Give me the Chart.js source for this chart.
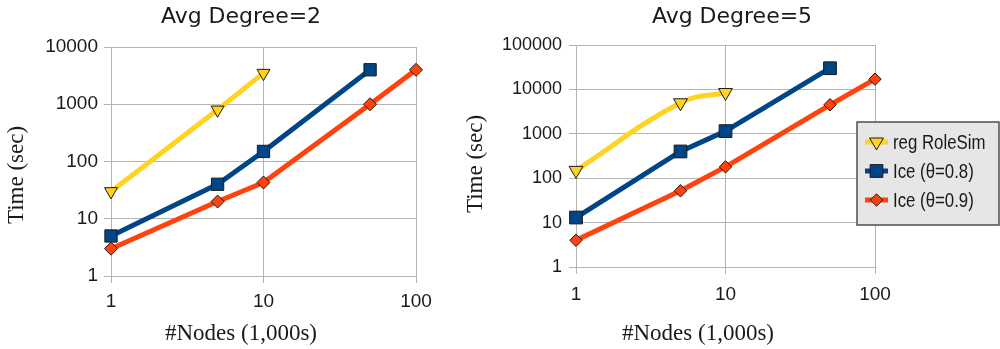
<!DOCTYPE html>
<html><head><meta charset="utf-8">
<script src="https://cdn.jsdelivr.net/npm/chart.js@4.4.1/dist/chart.umd.min.js"></script>
<style>
html,body{margin:0;padding:0;background:#fff;}
#wrap{position:relative;width:1000px;height:349px;overflow:hidden;background:#fff;}
.box{position:absolute;top:0;height:349px;}
</style></head><body>
<div id="wrap">
  <div class="box" style="left:0;width:460px"><canvas id="c1" width="460" height="349"></canvas></div>
  <div class="box" style="left:460px;width:540px"><canvas id="c2" width="540" height="349"></canvas></div>
</div>
<script>
// ---- data ----
const nodes = [1, 5, 10, 50, 100];
const seriesNames = ['reg RoleSim', 'Ice (θ=0.8)', 'Ice (θ=0.9)'];
const deg2RegRoleSim = [30, 800, 3500];
const deg2Ice08 = [5, 40, 150, 4000];
const deg2Ice09 = [3, 20, 43, 1000, 4000];
const deg5RegRoleSim = [150, 5000, 8500];
const deg5Ice08 = [13, 400, 1150, 30000];
const deg5Ice09 = [4, 52, 180, 4500, 17000];
const xTicks = [1, 10, 100];
const yTicksDeg2 = [1, 10, 100, 1000, 10000];
const yTicksDeg5 = [1, 10, 100, 1000, 10000, 100000];
const chartTitles = ['Avg Degree=2', 'Avg Degree=5'];
const xTitle = '#Nodes (1,000s)';
const yTitle = 'Time (sec)';

// ---- styles ----
const COLORS = ['#FFD320', '#004586', '#FF420E'];
const GRID = '#b4b4b4';
const TITLE_FONT = '22px "DejaVu Sans", sans-serif';
const AXIS_TITLE_FONT = '23px "Liberation Serif", "Times New Roman", serif';
const LEGEND_FONT = '20px "Liberation Sans", sans-serif';
const LEGEND_CONDENSE = 0.84;

function makeDataset(i, vals, radius, tension) {
  const styles = ['triangle', 'rect', 'rectRot'];
  const rots = [180, 0, 0];
  return {
    label: seriesNames[i],
    data: vals.map((v, k) => ({ x: nodes[k], y: v })),
    borderColor: COLORS[i],
    backgroundColor: COLORS[i],
    borderWidth: 5,
    borderJoinStyle: 'round',
    pointStyle: styles[i],
    pointRotation: rots[i],
    pointRadius: radius,
    pointHoverRadius: radius,
    pointBackgroundColor: COLORS[i],
    pointBorderColor: '#1a1a1a',
    pointBorderWidth: 1,
    tension: tension || 0,
    order: 3 - i,
    clip: false
  };
}

function makeScales(yMax, yTicks, yWidth, xHeight, xPad, yPad, yFontSize) {
  return {
    x: {
      type: 'logarithmic', min: 1, max: 100,
      afterBuildTicks: s => { s.ticks = xTicks.map(v => ({ value: v })); },
      afterFit: s => { s.height = xHeight; },
      ticks: { callback: v => String(v), autoSkip: false, maxRotation: 0,
        font: { family: 'Liberation Sans', size: 19 }, color: '#1a1a1a', padding: xPad },
      grid: { color: GRID, lineWidth: 1, tickLength: 7 },
      border: { color: GRID, width: 1 }
    },
    y: {
      type: 'logarithmic', min: 1, max: yMax,
      afterBuildTicks: s => { s.ticks = yTicks.map(v => ({ value: v })); },
      afterFit: s => { s.width = yWidth; },
      ticks: { callback: v => String(v), autoSkip: false,
        font: { family: 'Liberation Sans', size: yFontSize }, color: '#1a1a1a', padding: yPad },
      grid: { color: GRID, lineWidth: 1, tickLength: 7 },
      border: { color: GRID, width: 1 }
    }
  };
}

const textPlugin = {
  id: 'textLabels',
  afterDraw(chart, args, opts) {
    const ctx = chart.ctx;
    (opts.items || []).forEach(it => {
      ctx.save();
      ctx.font = it.font;
      ctx.fillStyle = '#1a1a1a';
      ctx.textAlign = 'center';
      ctx.textBaseline = 'middle';
      ctx.translate(it.x, it.y);
      if (it.rotate) ctx.rotate(it.rotate);
      ctx.fillText(it.text, 0, 0);
      ctx.restore();
    });
  }
};

const boxLegendPlugin = {
  id: 'boxLegend',
  afterDraw(chart, args, opts) {
    if (!opts.show) return;
    const ctx = chart.ctx;
    ctx.save();
    ctx.fillStyle = '#e6e6e6';
    ctx.fillRect(opts.x, opts.y, opts.w, opts.h);
    ctx.strokeStyle = '#4d4d4d';
    ctx.lineWidth = 1.5;
    ctx.strokeRect(opts.x, opts.y, opts.w, opts.h);
    chart.data.datasets.forEach((ds, i) => {
      const cy = opts.rows[i];
      ctx.strokeStyle = ds.borderColor;
      ctx.lineWidth = 5;
      ctx.beginPath();
      ctx.moveTo(opts.lineX0, cy);
      ctx.lineTo(opts.lineX1, cy);
      ctx.stroke();
      const mx = (opts.lineX0 + opts.lineX1) / 2;
      ctx.fillStyle = ds.pointBackgroundColor;
      ctx.strokeStyle = ds.pointBorderColor;
      ctx.lineWidth = ds.pointBorderWidth;
      if (Chart.helpers && Chart.helpers.drawPoint) {
        Chart.helpers.drawPoint(ctx, { pointStyle: ds.pointStyle, rotation: ds.pointRotation,
          radius: ds.pointRadius, borderWidth: ds.pointBorderWidth }, mx, cy);
      }
      ctx.save();
      ctx.fillStyle = '#1a1a1a';
      ctx.font = LEGEND_FONT;
      ctx.textAlign = 'left';
      ctx.textBaseline = 'middle';
      ctx.translate(opts.textX, cy + 1);
      ctx.scale(LEGEND_CONDENSE, 1);
      ctx.fillText(ds.label, 0, 0);
      ctx.restore();
    });
    ctx.restore();
  }
};

Chart.register(textPlugin, boxLegendPlugin);

// Left chart (Avg Degree=2)
new Chart(document.getElementById('c1'), {
  type: 'line',
  data: { datasets: [
    makeDataset(0, deg2RegRoleSim, 7.5),
    makeDataset(1, deg2Ice08, 8.7),
    makeDataset(2, deg2Ice09, 6.5)
  ] },
  options: {
    responsive: false, animation: false, devicePixelRatio: 1,
    layout: { padding: { left: 0, right: 44, top: 47, bottom: 0 } },
    scales: makeScales(10000, yTicksDeg2, 111, 73, 7, 6, 19),
    plugins: {
      legend: { display: false }, tooltip: { enabled: false },
      textLabels: { items: [
        { text: chartTitles[0], x: 241, y: 17, font: TITLE_FONT },
        { text: xTitle, x: 241, y: 334, font: AXIS_TITLE_FONT },
        { text: yTitle, x: 17, y: 175, font: AXIS_TITLE_FONT, rotate: -Math.PI / 2 }
      ] },
      boxLegend: { show: false }
    }
  }
});

// Right chart (Avg Degree=5)
new Chart(document.getElementById('c2'), {
  type: 'line',
  data: { datasets: [
    makeDataset(0, deg5RegRoleSim, 8, 0.4),
    makeDataset(1, deg5Ice08, 9),
    makeDataset(2, deg5Ice09, 6.2)
  ] },
  options: {
    responsive: false, animation: false, devicePixelRatio: 1,
    layout: { padding: { left: 0, right: 125, top: 45, bottom: 0 } },
    scales: makeScales(100000, yTicksDeg5, 116, 82, 9, 7, 18),
    plugins: {
      legend: { display: false }, tooltip: { enabled: false },
      textLabels: { items: [
        { text: chartTitles[1], x: 272, y: 17, font: TITLE_FONT },
        { text: xTitle, x: 238, y: 334, font: AXIS_TITLE_FONT },
        { text: yTitle, x: 16, y: 164, font: AXIS_TITLE_FONT, rotate: -Math.PI / 2 }
      ] },
      boxLegend: { show: true, x: 397, y: 122, w: 142, h: 103,
        rows: [142, 171, 200], lineX0: 405, lineX1: 428, textX: 433 }
    }
  }
});
</script>
</body></html>
